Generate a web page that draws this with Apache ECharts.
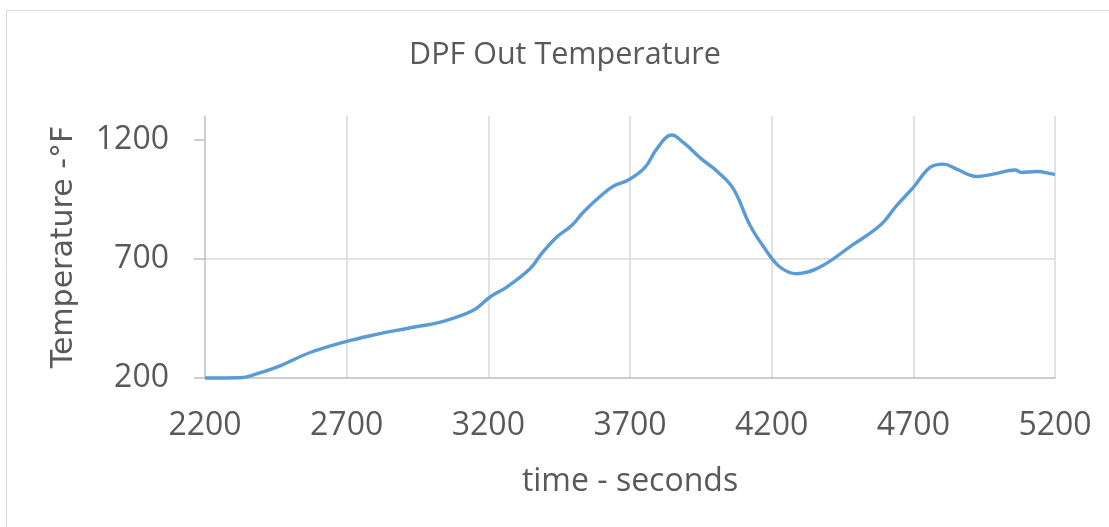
<!DOCTYPE html>
<html>
<head>
<meta charset="utf-8">
<script src="https://cdn.jsdelivr.net/npm/echarts@6/dist/echarts.min.js"></script>
<style>html,body{margin:0;padding:0;background:#fff}#c{width:1109px;height:527px}</style>
</head>
<body>
<div id="c"></div>
<script>
const titleText = 'DPF Out Temperature';
const xName = 'time - seconds';
const yName = 'Temperature -°F';
const xTicks = [2200, 2700, 3200, 3700, 4200, 4700, 5200];
const yTicks = [200, 700, 1200];
const timeSec = [2200, 2324, 2382, 2465, 2571, 2694, 2806, 2912, 3041, 3147, 3206, 3265, 3347, 3388, 3441, 3494, 3535, 3594, 3641, 3694, 3753, 3794, 3847, 3888, 3953, 4012, 4065, 4124, 4176, 4229, 4288, 4371, 4482, 4582, 4641, 4700, 4759, 4806, 4853, 4923, 4982, 5059, 5082, 5135, 5194, 5200];
const tempF = [200, 201, 217, 251, 307, 352, 383, 408, 438, 484, 540, 582, 659, 722, 791, 840, 896, 962, 1005, 1031, 1084, 1161, 1220, 1189, 1119, 1063, 994, 840, 743, 666, 638, 666, 756, 840, 924, 1000, 1084, 1098, 1077, 1046, 1056, 1073, 1063, 1067, 1056, 1055];

const font = '"Open Sans", sans-serif';
const txt = '#595959';
const chart = echarts.init(document.getElementById('c'));
chart.setOption({
  animation: false,
  backgroundColor: '#fff',
  graphic: [{
    type: 'rect', shape: {x: 6.5, y: 10.5, width: 1130, height: 540},
    style: {fill: 'none', stroke: '#d9d9d9', lineWidth: 1}, silent: true, z: -10
  }],
  title: {
    text: titleText, left: 560, textAlign: 'center', top: 35,
    textStyle: {fontFamily: font, fontSize: 30.5, fontWeight: 'normal', color: txt}
  },
  grid: {left: 205, right: 54, top: 116, bottom: 149, containLabel: false},
  xAxis: {
    type: 'value', min: 2200, max: 5200, interval: 500,
    name: xName, nameLocation: 'middle', nameGap: 88,
    nameTextStyle: {fontFamily: font, fontSize: 32, color: txt},
    axisLine: {show: true, onZero: false, lineStyle: {color: '#bfbfbf', width: 1.5}},
    axisTick: {show: false},
    axisLabel: {customValues: xTicks, formatter: v => String(v), fontFamily: font, fontSize: 32, color: txt, margin: 32},
    splitLine: {show: true, showMinLine: false, lineStyle: {color: '#d9d9d9', width: 1.5}}
  },
  yAxis: {
    type: 'value', min: 200, max: 1300, interval: 500,
    name: yName, nameLocation: 'middle', nameGap: 126,
    nameTextStyle: {fontFamily: '"DejaVu Sans", sans-serif', fontSize: 30, color: txt},
    axisLine: {show: true, lineStyle: {color: '#bfbfbf', width: 1.5}},
    axisTick: {show: true, customValues: yTicks, length: 11, lineStyle: {color: '#bfbfbf', width: 1.5}},
    axisLabel: {customValues: yTicks, formatter: v => String(v), fontFamily: font, fontSize: 32, color: txt, margin: 36},
    splitLine: {show: true, showMinLine: false, showMaxLine: false, lineStyle: {color: '#d9d9d9', width: 1.5}}
  },
  series: [{
    type: 'line', data: timeSec.map((t, i) => [t, tempF[i]]),
    smooth: 0.4, showSymbol: false, clip: false,
    lineStyle: {color: '#5b9bd5', width: 3.4}
  }]
});
</script>
</body>
</html>
